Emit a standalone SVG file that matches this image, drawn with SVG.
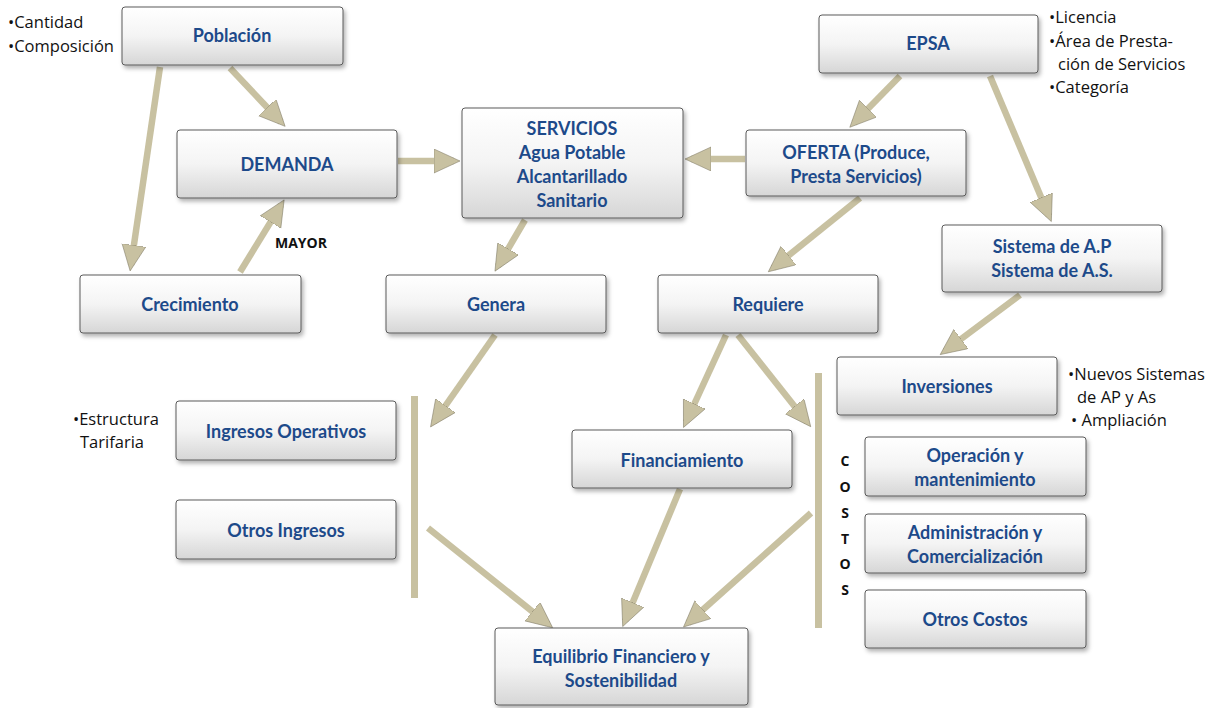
<svg xmlns="http://www.w3.org/2000/svg" width="1212" height="708" viewBox="0 0 1212 708">
<style>
.box{fill:url(#g);stroke:#5a5a5a;stroke-width:1}
.t{font-family:Lato,"Open Sans",sans-serif;font-weight:bold;font-size:18px;fill:#1d4a8a;text-anchor:middle}
.b{font-family:"Open Sans","Noto Sans",sans-serif;font-size:16.5px;fill:#111}
.c{font-family:"Open Sans",sans-serif;font-weight:bold;font-size:14px;fill:#111}
.a{stroke:#c8c1a1;stroke-width:6.5;fill:none;marker-end:url(#ah)}
.bar{fill:#c8c1a1}
</style>
<defs>
<linearGradient id="g" x1="0" y1="0" x2="0" y2="1">
<stop offset="0" stop-color="#ffffff"/>
<stop offset="0.5" stop-color="#f4f4f4"/>
<stop offset="1" stop-color="#d6d6d6"/>
</linearGradient>
<filter id="sh" x="-10%" y="-10%" width="125%" height="135%">
<feDropShadow dx="2" dy="3" stdDeviation="2" flood-color="#000" flood-opacity="0.3"/>
</filter>
<marker id="ah" markerUnits="userSpaceOnUse" markerWidth="28" markerHeight="26" refX="20" refY="12" orient="auto">
<path d="M0,0 L26,12 L0,24 z" fill="#c8c1a1" stroke="#7a7560" stroke-width="0.5"/>
</marker>
</defs>

<g id="connectors">
<line class="a" x1="160" y1="67" x2="131" y2="265"/>
<line class="a" x1="230" y1="68" x2="281" y2="122"/>
<line class="a" x1="240" y1="272" x2="281" y2="205"/>
<line class="a" x1="398" y1="161" x2="454" y2="161"/>
<line class="a" x1="745" y1="159" x2="691" y2="159"/>
<line class="a" x1="900" y1="76" x2="854" y2="123"/>
<line class="a" x1="990" y1="76" x2="1049" y2="216"/>
<line class="a" x1="525" y1="220" x2="498" y2="266"/>
<line class="a" x1="860" y1="198" x2="773" y2="268"/>
<line class="a" x1="1020" y1="295" x2="945" y2="351"/>
<line class="a" x1="495" y1="335" x2="434" y2="422"/>
<line class="a" x1="726" y1="335" x2="686" y2="422"/>
<line class="a" x1="738" y1="335" x2="807" y2="422"/>
<line class="a" x1="428" y1="528" x2="548" y2="624"/>
<line class="a" x1="680" y1="489" x2="625" y2="621"/>
<line class="a" x1="811" y1="513" x2="688" y2="623"/>
<rect class="bar" x="411" y="396" width="7" height="202"/>
<rect class="bar" x="815" y="373" width="7" height="255"/>
</g>

<g id="poblacion"><rect class="box" filter="url(#sh)" x="122" y="7" width="221" height="58" rx="3"/><text class="t" x="232" y="42">Población</text></g>
<g id="demanda"><rect class="box" filter="url(#sh)" x="177" y="130" width="220" height="68" rx="3"/><text class="t" x="287" y="171">DEMANDA</text></g>
<g id="servicios"><rect class="box" filter="url(#sh)" x="462" y="108" width="221" height="110" rx="3"/>
<text class="t" x="572" y="135">SERVICIOS</text><text class="t" x="572" y="159">Agua Potable</text><text class="t" x="572" y="183">Alcantarillado</text><text class="t" x="572" y="207">Sanitario</text></g>
<g id="oferta"><rect class="box" filter="url(#sh)" x="746" y="130" width="220" height="66" rx="3"/>
<text class="t" x="856" y="159">OFERTA (Produce,</text><text class="t" x="856" y="183">Presta Servicios)</text></g>
<g id="epsa"><rect class="box" filter="url(#sh)" x="819" y="15" width="219" height="58" rx="3"/><text class="t" x="928" y="50">EPSA</text></g>
<g id="crecimiento"><rect class="box" filter="url(#sh)" x="80" y="275" width="221" height="58" rx="3"/><text class="t" x="190" y="311">Crecimiento</text></g>
<g id="genera"><rect class="box" filter="url(#sh)" x="386" y="275" width="220" height="58" rx="3"/><text class="t" x="496" y="311">Genera</text></g>
<g id="requiere"><rect class="box" filter="url(#sh)" x="658" y="275" width="220" height="58" rx="3"/><text class="t" x="768" y="311">Requiere</text></g>
<g id="sistema"><rect class="box" filter="url(#sh)" x="942" y="225" width="220" height="67" rx="3"/>
<text class="t" x="1052" y="253">Sistema de A.P</text><text class="t" x="1052" y="277">Sistema de A.S.</text></g>
<g id="inversiones"><rect class="box" filter="url(#sh)" x="837" y="357" width="220" height="58" rx="3"/><text class="t" x="947" y="393">Inversiones</text></g>
<g id="ingresos-operativos"><rect class="box" filter="url(#sh)" x="176" y="401" width="220" height="59" rx="3"/><text class="t" x="286" y="438">Ingresos Operativos</text></g>
<g id="otros-ingresos"><rect class="box" filter="url(#sh)" x="176" y="500" width="220" height="59" rx="3"/><text class="t" x="286" y="537">Otros Ingresos</text></g>
<g id="financiamiento"><rect class="box" filter="url(#sh)" x="572" y="430" width="220" height="58" rx="3"/><text class="t" x="682" y="467">Financiamiento</text></g>
<g id="operacion"><rect class="box" filter="url(#sh)" x="865" y="437" width="221" height="59" rx="3"/>
<text class="t" x="975" y="462">Operación y</text><text class="t" x="975" y="486">mantenimiento</text></g>
<g id="administracion"><rect class="box" filter="url(#sh)" x="865" y="514" width="221" height="59" rx="3"/>
<text class="t" x="975" y="539">Administración y</text><text class="t" x="975" y="563">Comercialización</text></g>
<g id="otros-costos"><rect class="box" filter="url(#sh)" x="865" y="590" width="221" height="58" rx="3"/><text class="t" x="975" y="626">Otros Costos</text></g>
<g id="equilibrio"><rect class="box" filter="url(#sh)" x="495" y="628" width="253" height="77" rx="3"/>
<text class="t" x="621" y="663">Equilibrio Financiero y</text><text class="t" x="621" y="687">Sostenibilidad</text></g>

<g id="labels">
<text class="b" x="8" y="28">•Cantidad</text>
<text class="b" x="8" y="52">•Composición</text>
<text class="b" x="1049" y="23">•Licencia</text>
<text class="b" x="1049" y="47">•Área de Presta-</text>
<text class="b" x="1058" y="70">ción de Servicios</text>
<text class="b" x="1049" y="93">•Categoría</text>
<text class="b" x="1068" y="380">•Nuevos Sistemas</text>
<text class="b" x="1077" y="403">de AP y As</text>
<text class="b" x="1071" y="426">• Ampliación</text>
<text class="b" x="73" y="425">•Estructura</text>
<text class="b" x="80" y="448">Tarifaria</text>
<text class="c" x="275" y="248">MAYOR</text>
<text class="c" x="845" y="466" text-anchor="middle">C</text>
<text class="c" x="845" y="492" text-anchor="middle">O</text>
<text class="c" x="845" y="518" text-anchor="middle">S</text>
<text class="c" x="845" y="544" text-anchor="middle">T</text>
<text class="c" x="845" y="569" text-anchor="middle">O</text>
<text class="c" x="845" y="595" text-anchor="middle">S</text>
</g>
</svg>
